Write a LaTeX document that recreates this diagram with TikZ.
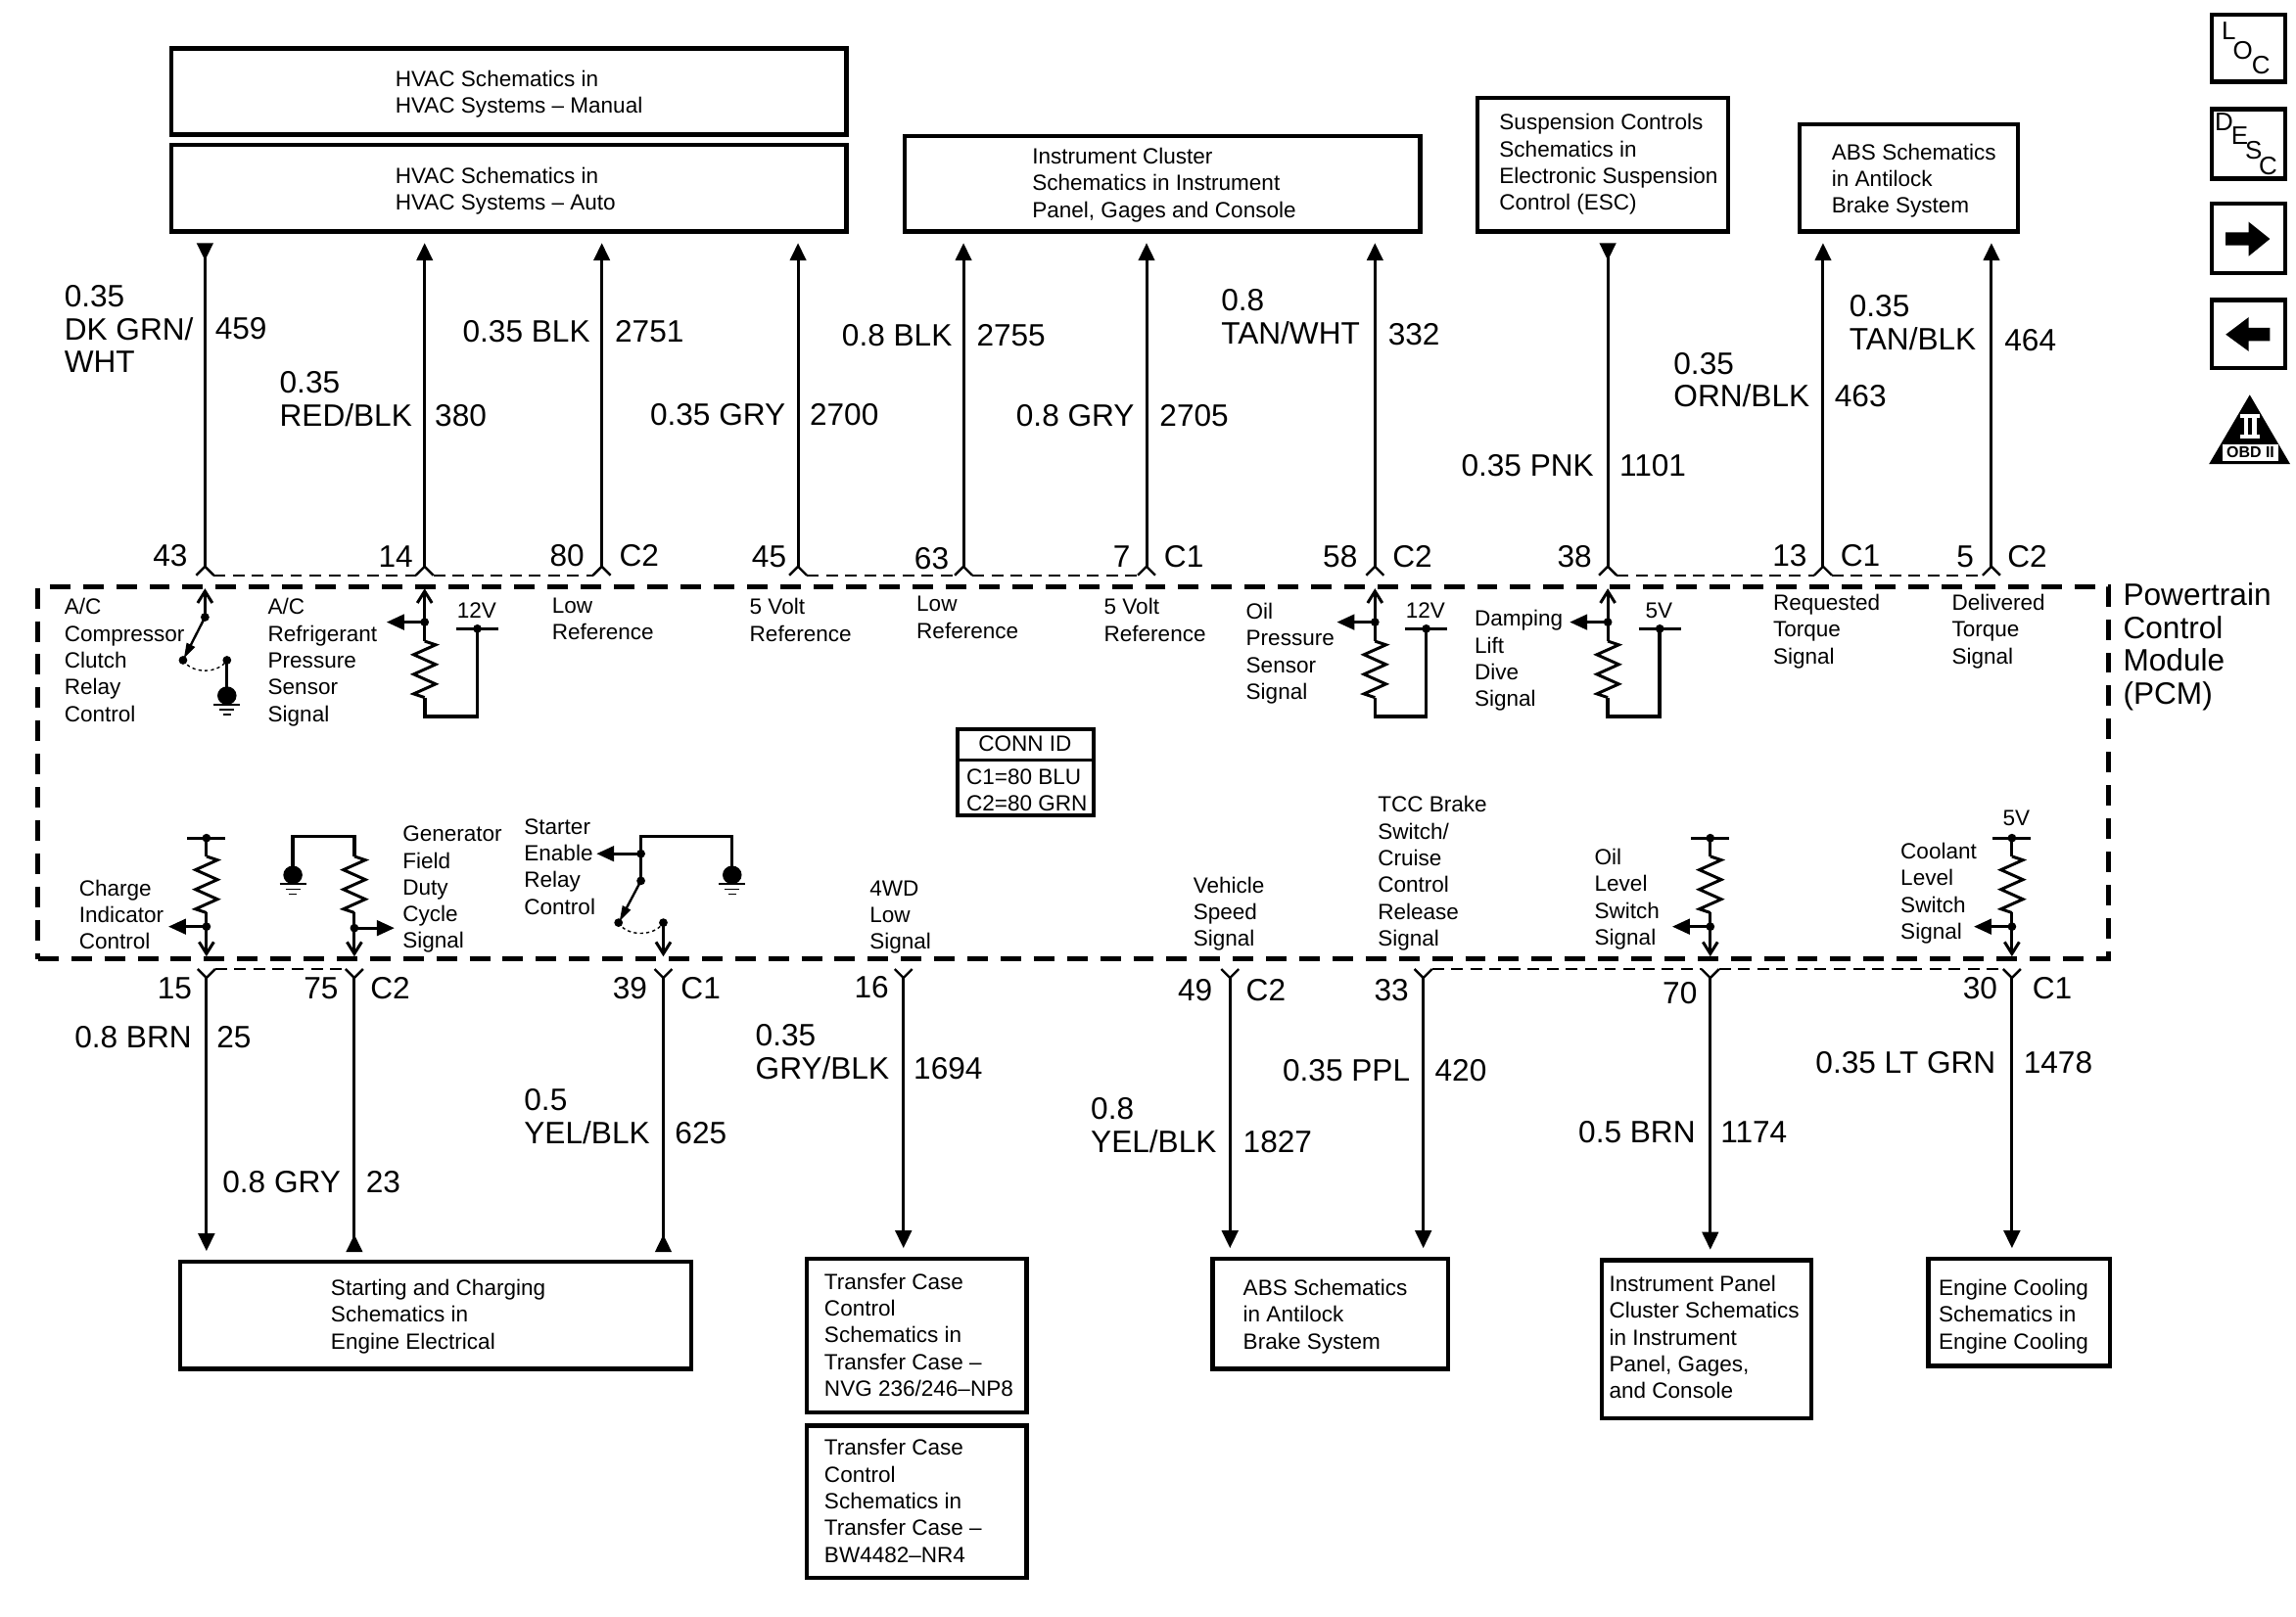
\documentclass[tikz,border=0pt]{standalone}
\usepackage{fontspec}
\setmainfont{Liberation Sans}
\usetikzlibrary{arrows.meta}
\tikzset{
 sm/.style={font={\fontsize{11.3}{13.7}\selectfont},align=left,anchor=north west,inner sep=0pt,outer sep=0pt,yshift=5.2pt},
 smc/.style={font={\fontsize{11.3}{13.7}\selectfont},anchor=center,inner sep=0pt,outer sep=0pt},
 lg/.style={font={\fontsize{15.85}{16.9}\selectfont},align=left,anchor=north west,inner sep=0pt,outer sep=0pt,yshift=6.2pt},
 lgr/.style={lg,anchor=north east},
 boxs/.style={draw,line width=2.25pt,inner sep=0pt,outer sep=0pt,font={\fontsize{11.3}{13.7}\selectfont}},
 pcmbox/.style={draw,line width=2.4pt,dash pattern=on 10.5pt off 6.5pt,inner sep=0pt,outer sep=0pt},
 wire/.style={line width=1.5pt},
 loopw/.style={line width=1.8pt},
 fork/.style={line width=1.2pt},
 thind/.style={line width=.8pt,dash pattern=on 6pt off 3.8pt},
 toparrow/.style={wire,-{Triangle[length=9pt,width=8.25pt]},shorten >=6pt},
 frombox/.style={wire,{Triangle[length=9pt,width=8.25pt,reversed]}-,shorten <=6pt},
 downarrow/.style={wire,-{Triangle[length=9pt,width=8.25pt]},shorten >=5.5pt},
 upinto/.style={wire,-{Triangle[length=9pt,width=8.25pt,reversed]},shorten >=5pt},
 sig/.style={wire,-{Triangle[length=9pt,width=7.8pt]}},
 barb/.style={wire,-{Straight Barb[length=6pt,width=7.5pt]}},
 swarm/.style={line width=1.2pt,-{Triangle[length=8pt,width=4.5pt]}},
 arcd/.style={line width=.7pt,dash pattern=on 1.6pt off 1.6pt},
 icon/.style={font={\fontsize{13}{14}\selectfont},inner sep=0pt,outer sep=0pt},
}
\newcommand\txs[4]{\node[sm] (#1) at (#2,#3) {\strut #4};}
\newcommand\txl[4]{\node[lg] (#1) at (#2,#3) {\strut #4};}
\newcommand\txr[4]{\node[lgr] (#1) at (#2,#3) {\strut #4};}
\newcommand\boxn[8][0]{%
 \pgfmathsetlengthmacro\bw{(#5-#3)*0.75pt}%
 \pgfmathsetlengthmacro\bh{(#6-#4)*0.75pt}%
 \pgfmathsetlengthmacro\bp{(#7-#3)*0.75pt}%
 \pgfmathsetlengthmacro\bo{-2.85pt-(#1)*0.75pt}%
 \node[boxs,minimum width=\bw,minimum height=\bh] (#2) at ({(#3+#5)/2},{(#4+#6)/2})
 {\makebox[\bw][l]{\hspace*{\bp}\raisebox{\bo}[0pt][0pt]{\begin{tabular}{@{}l@{}}#8\end{tabular}}}};}
\newcommand\pinT[2]{\coordinate (#1) at (#2,387); \draw[fork] (#2-6,393) -- (#1) -- (#2+6,393);}
\newcommand\pinB[2]{\coordinate (#1) at (#2,668); \draw[fork] (#2-6,662) -- (#1) -- (#2+6,662);}
\newcommand\dotm[2]{\fill (#1,#2) circle[radius=2.2pt];}
\newcommand\res[2]{\draw[wire] (#1,#2) -- ++(7.5,2.5) -- ++(-15,6.7) -- ++(15,6.7) -- ++(-15,6.7) -- ++(15,6.7) -- ++(-15,6.7) -- ++(7.5,2.5);}
\newcommand\gnd[2]{%
 \fill (#1,#2-6.3) ellipse[x radius=4.9pt,y radius=4.7pt];
 \draw[line width=1pt] (#1-9,#2) -- (#1+9,#2);
 \draw[line width=.8pt] (#1-5,#2+3.4) -- (#1+5,#2+3.4);
 \draw[line width=.8pt] (#1-2.5,#2+6.8) -- (#1+2.5,#2+6.8);}
% top sensor: name, x, rail x, volt label
\newcommand\sens[4]{%
 \dotm{#2}{425}
 \draw[barb] (#2,425) -- (#2,402);
 \draw[sig] (#2,425) -- (#2-26,425);
 \draw[wire] (#2,425) -- (#2,438);
 \res{#2}{438}
 \draw[loopw] (#2,476.5) -- (#2,489.6) -- (#3,489.6) -- (#3,429.5);
 \draw[wire] (#3-14.5,429.5) -- (#3+14.5,429.5);
 \dotm{#3}{429.5}
 \node[smc] (#1) at (#3-.5,417) {#4};}
% bottom sensor: x
\newcommand\bsens[1]{%
 \draw[wire] (#1-13,572.5) -- (#1+13,572.5);
 \dotm{#1}{572.5}
 \draw[wire] (#1,572.5) -- (#1,585);
 \res{#1}{585}
 \draw[wire] (#1,623.5) -- (#1,633);
 \dotm{#1}{633}
 \draw[barb] (#1,633) -- (#1,653.4);
 \draw[sig] (#1,633) -- (#1-26,633);}
\begin{document}
\begin{tikzpicture}[x=0.75pt,y=-0.75pt]
\useasboundingbox (0,0) rectangle (1568,1104.6);
\fill[white] (0,0) rectangle (1568,1104.6);

% ---- boxes
\boxn[2]{hvm}{117}{33}{578}{92}{270}{HVAC Schematics in\\HVAC Systems -- Manual}
\boxn[2]{hva}{117}{99}{578}{158}{270}{HVAC Schematics in\\HVAC Systems -- Auto}
\boxn[1]{ipc}{618}{93}{970}{158}{705}{Instrument Cluster\\Schematics in Instrument\\Panel, Gages and Console}
\boxn[0]{esc}{1009}{67}{1180}{158}{1024}{Suspension Controls\\Schematics in\\Electronic Suspension\\Control (ESC)}
\boxn[2]{abt}{1229}{85}{1378}{158}{1251}{ABS Schematics\\in Antilock\\Brake System}
\boxn[1]{sce}{123}{862}{472}{935}{226}{Starting and Charging\\Schematics in\\Engine Electrical}
\boxn[1]{tc1}{551}{860}{701}{965}{563}{Transfer Case\\Control\\Schematics in\\Transfer Case --\\NVG 236/246--NP8}
\boxn[1]{tc2}{551}{974}{701}{1078}{563}{Transfer Case\\Control\\Schematics in\\Transfer Case --\\BW4482--NR4}
\boxn[2]{abb}{828}{860}{989}{935}{849}{ABS Schematics\\in Antilock\\Brake System}
\boxn[0]{ipb}{1094}{861}{1237}{969}{1099}{Instrument Panel\\Cluster Schematics\\in Instrument\\Panel, Gages,\\and Console}
\boxn[3]{eng}{1317}{860}{1441}{933}{1324}{Engine Cooling\\Schematics in\\Engine Cooling}

% ---- PCM
\node[pcmbox,minimum width=1060.5pt,minimum height=190.5pt] (pcm) at (733,528) {};
\txl{pcmt}{1450}{406}{Powertrain\\Control\\Module\\(PCM)}

% ---- conn id
\node[draw,line width=1.8pt,minimum width=69.75pt,minimum height=44.25pt,inner sep=0pt,outer sep=0pt] (conn) at (700.5,527.5) {};
\draw[line width=1.5pt] (654,519) -- (747,519);
\node[smc] (connt) at (700,508) {CONN ID};
\txs{connb}{660}{530}{C1=80 BLU\\C2=80 GRN}

% ---- top pins
\pinT{p43}{140}\pinT{p14}{290}\pinT{p80}{411}\pinT{p45}{545}\pinT{p63}{658}
\pinT{p7}{783}\pinT{p58}{939}\pinT{p38}{1098}\pinT{p13}{1245}\pinT{p5}{1360}
\draw[thind] ([shift={(6,6)}]p43) -- ([shift={(-6,6)}]p14);
\draw[thind] ([shift={(6,6)}]p14) -- ([shift={(-6,6)}]p80);
\draw[thind] ([shift={(6,6)}]p45) -- ([shift={(-6,6)}]p63);
\draw[thind] ([shift={(6,6)}]p63) -- ([shift={(-6,6)}]p7);
\draw[thind] ([shift={(6,6)}]p38) -- ([shift={(-6,6)}]p13);
\draw[thind] ([shift={(6,6)}]p13) -- ([shift={(-6,6)}]p5);

\draw[frombox] (p43 |- hva.south) -- (p43);
\draw[toparrow] (p14) -- (p14 |- hva.south);
\draw[toparrow] (p80) -- (p80 |- hva.south);
\draw[toparrow] (p45) -- (p45 |- hva.south);
\draw[toparrow] (p63) -- (p63 |- ipc.south);
\draw[toparrow] (p7) -- (p7 |- ipc.south);
\draw[toparrow] (p58) -- (p58 |- ipc.south);
\draw[frombox] (p38 |- esc.south) -- (p38);
\draw[toparrow] (p13) -- (p13 |- abt.south);
\draw[toparrow] (p5) -- (p5 |- abt.south);

% ---- bottom pins
\pinB{b15}{141}\pinB{b75}{242}\pinB{b39}{453}\pinB{b16}{617}\pinB{b49}{840}
\pinB{b33}{972}\pinB{b70}{1168}\pinB{b30}{1374}
\draw[thind] ([shift={(6,-6)}]b15) -- ([shift={(-6,-6)}]b75);
\draw[thind] ([shift={(6,-6)}]b33) -- ([shift={(-6,-6)}]b70);
\draw[thind] ([shift={(6,-6)}]b70) -- ([shift={(-6,-6)}]b30);

\draw[downarrow] (b15) -- (b15 |- sce.north);
\draw[upinto] (b75) -- (b75 |- sce.north);
\draw[upinto] (b39) -- (b39 |- sce.north);
\draw[downarrow] (b16) -- (b16 |- tc1.north);
\draw[downarrow] (b49) -- (b49 |- abb.north);
\draw[downarrow] (b33) -- (b33 |- abb.north);
\draw[downarrow] (b70) -- (b70 |- ipb.north);
\draw[downarrow] (b30) -- (b30 |- eng.north);

% ---- pin labels
\txr{n43}{128}{379}{43}
\txr{n14}{282}{380}{14}
\txr{n80}{399}{379}{80}\txl{c80}{423}{379}{C2}
\txr{n45}{537}{380}{45}
\txr{n63}{648}{381}{63}
\txr{n7}{772}{380}{7}\txl{c7}{795}{380}{C1}
\txr{n58}{927}{380}{58}\txl{c58}{951}{380}{C2}
\txr{n38}{1087}{380}{38}
\txr{n13}{1234}{379}{13}\txl{c13}{1257}{379}{C1}
\txr{n5}{1348}{380}{5}\txl{c5}{1371}{380}{C2}
\txr{n15}{131}{675}{15}
\txr{n75}{231}{675}{75}\txl{c75}{253}{675}{C2}
\txr{n39}{442}{675}{39}\txl{c39}{465}{675}{C1}
\txr{n16}{607}{674}{16}
\txr{n49}{828}{676}{49}\txl{c49}{851}{676}{C2}
\txr{n33}{962}{676}{33}
\txr{n70}{1159}{678}{70}
\txr{n30}{1364}{675}{30}\txl{c30}{1388}{675}{C1}

% ---- wire labels top
\txl{w1}{44}{202}{0.35\\DK GRN/\\WHT}\txl{w1n}{147}{224}{459}
\txl{w2}{191}{261}{0.35\\RED/BLK}\txl{w2n}{297}{284}{380}
\txl{w3}{316}{226}{0.35 BLK}\txl{w3n}{420}{226}{2751}
\txl{w4}{444}{283}{0.35 GRY}\txl{w4n}{553}{283}{2700}
\txl{w5}{575}{229}{0.8 BLK}\txl{w5n}{667}{229}{2755}
\txl{w6}{694}{284}{0.8 GRY}\txl{w6n}{792}{284}{2705}
\txl{w7}{834}{205}{0.8\\TAN/WHT}\txl{w7n}{948}{228}{332}
\txl{w8}{998}{318}{0.35 PNK}\txl{w8n}{1106}{318}{1101}
\txl{w9}{1143}{248}{0.35\\ORN/BLK}\txl{w9n}{1253}{270}{463}
\txl{w10}{1263}{209}{0.35\\TAN/BLK}\txl{w10n}{1369}{232}{464}
% ---- wire labels bottom
\txl{v1}{51}{708}{0.8 BRN}\txl{v1n}{148}{708}{25}
\txl{v2}{152}{807}{0.8 GRY}\txl{v2n}{250}{807}{23}
\txl{v3}{358}{751}{0.5\\YEL/BLK}\txl{v3n}{461}{774}{625}
\txl{v4}{516}{707}{0.35\\GRY/BLK}\txl{v4n}{624}{730}{1694}
\txl{v5}{745}{757}{0.8\\YEL/BLK}\txl{v5n}{849}{780}{1827}
\txl{v6}{876}{731}{0.35 PPL}\txl{v6n}{980}{731}{420}
\txl{v7}{1078}{773}{0.5 BRN}\txl{v7n}{1175}{773}{1174}
\txl{v8}{1240}{726}{0.35 LT GRN}\txl{v8n}{1382}{726}{1478}

% ---- PCM texts
\txs{s1}{44}{414}{A/C\\Compressor\\Clutch\\Relay\\Control}
\txs{s2}{183}{414}{A/C\\Refrigerant\\Pressure\\Sensor\\Signal}
\txs{s3}{377}{413}{Low\\Reference}
\txs{s4}{512}{414}{5 Volt\\Reference}
\txs{s5}{626}{412}{Low\\Reference}
\txs{s6}{754}{414}{5 Volt\\Reference}
\txs{s7}{851}{417}{Oil\\Pressure\\Sensor\\Signal}
\txs{s8}{1007}{422}{Damping\\Lift\\Dive\\Signal}
\txs{s9}{1211}{411}{Requested\\Torque\\Signal}
\txs{s10}{1333}{411}{Delivered\\Torque\\Signal}
\txs{s11}{54}{606}{Charge\\Indicator\\Control}
\txs{s12}{275}{569}{Generator\\Field\\Duty\\Cycle\\Signal}
\txs{s13}{358}{564}{Starter\\Enable\\Relay\\Control}
\txs{s14}{594}{606}{4WD\\Low\\Signal}
\txs{s15}{815}{604}{Vehicle\\Speed\\Signal}
\txs{s16}{941}{549}{TCC Brake\\Switch/\\Cruise\\Control\\Release\\Signal}
\txs{s17}{1089}{585}{Oil\\Level\\Switch\\Signal}
\txs{s18}{1298}{581}{Coolant\\Level\\Switch\\Signal}

% ---- AC clutch relay
\draw[barb] (140,421.6) -- (140,402);
\dotm{140}{421.6}
\draw[swarm] (140,421.6) -- (125.5,450);
\dotm{125}{451}\dotm{155}{451}
\draw[arcd] (125,451) .. controls (131,460.5) and (149,460.5) .. (155,451);
\draw[wire] (155,451) -- (155,470);
\gnd{155}{481.5}

% ---- sensors top
\sens{v14}{290}{326}{12V}
\sens{v58}{939}{974}{12V}
\sens{v38}{1098}{1133.5}{5V}

% ---- sensors bottom
\bsens{141}
\bsens{1168}
\bsens{1374}
\node[smc] (v30) at (1377,559) {5V};

% ---- generator
\draw[loopw] (200,595) -- (200,571.5) -- (242,571.5) -- (242,585);
\gnd{200}{604}
\res{242}{585}
\draw[wire] (242,623.5) -- (242,634);
\dotm{242}{634}
\draw[barb] (242,634) -- (242,653.4);
\draw[sig] (242,634) -- (269.4,634);

% ---- starter
\draw[wire] (500,595) -- (500,571.5) -- (437.7,571.5) -- (437.7,601.7);
\gnd{500}{604}
\dotm{437.7}{583.2}\dotm{437.7}{601.7}
\draw[sig] (437.7,583.2) -- (407.4,583.2);
\draw[swarm] (437.7,601.7) -- (423,629.5);
\dotm{422.4}{630.3}\dotm{453}{630.3}
\draw[arcd] (422.4,630.3) .. controls (428,640) and (447,640) .. (453,630.3);
\draw[barb] (453,630.3) -- (453,653.4);

% ---- right icons
\boxn{iloc}{1510.5}{10}{1560.5}{56}{1515}{}
\node[icon] (il) at (1522,21) {L};
\node[icon] (io) at (1531.6,34.5) {O};
\node[icon] (ic) at (1544,44.6) {C};
\boxn{idsc}{1510.5}{74.5}{1560.5}{122}{1515}{}
\node[icon] (id) at (1518.9,83.6) {D};
\node[icon] (ie) at (1529.6,92.5) {E};
\node[icon] (is) at (1539,103) {S};
\node[icon] (ic2) at (1549,113.7) {C};
\boxn{inxt}{1510.5}{139}{1560.5}{186.7}{1515}{}
\fill (1520,158.7) -- (1535.7,158.7) -- (1535.7,151.6) -- (1550.2,163.2) -- (1535.7,175) -- (1535.7,167.6) -- (1520,167.6) -- cycle;
\boxn{iprv}{1510.5}{205}{1560.5}{251.5}{1515}{}
\fill (1550.2,224) -- (1535.7,224) -- (1535.7,216.7) -- (1520,228.5) -- (1535.7,240) -- (1535.7,233) -- (1550.2,233) -- cycle;
\fill (1536.4,269.7) -- (1564,317) -- (1508.6,317) -- cycle;
\fill[white] (1530,282.6) rectangle (1543,285.3);
\fill[white] (1532.4,285.3) rectangle (1535.4,297);
\fill[white] (1537.6,285.3) rectangle (1541,297);
\fill[white] (1530,297) rectangle (1543,299.8);
\fill[white] (1518,303.5) rectangle (1555.8,314.7);
\node[inner sep=0pt,outer sep=0pt,font={\fontsize{8}{9}\selectfont\bfseries}] (obd) at (1536.9,309.2) {OBD II};
\end{tikzpicture}
\end{document}
